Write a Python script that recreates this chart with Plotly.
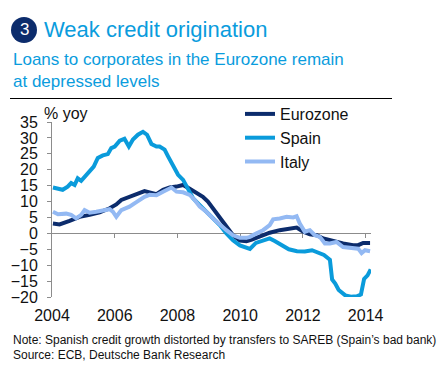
import plotly.graph_objects as go

# ---- data ----
years = [2004, 2006, 2008, 2010, 2012, 2014]
year_labels = ["2004", "2006", "2008", "2010", "2012", "2014"]
y_ticks = [-20, -15, -10, -5, 0, 5, 10, 15, 20, 25, 30, 35]

eurozone_x = [2004.03, 2004.24, 2004.56, 2004.88, 2005.20, 2005.52, 2005.84, 2006.05, 2006.21,
              2006.47, 2006.69, 2006.95, 2007.11, 2007.33, 2007.54, 2007.75, 2007.97, 2008.18,
              2008.39, 2008.60, 2008.81, 2008.97, 2009.13, 2009.35, 2009.56, 2009.77, 2009.99,
              2010.20, 2010.37, 2010.62, 2010.84, 2010.94, 2011.26, 2011.58, 2011.80, 2012.01,
              2012.22, 2012.44, 2012.65, 2012.97, 2013.28, 2013.60, 2013.76, 2013.92, 2014.14]
eurozone_y = [3.1, 2.8, 3.9, 5.2, 5.8, 6.6, 7.9, 9.1, 10.5,
              11.5, 12.4, 13.3, 12.9, 12.3, 13.7, 14.4, 14.7, 15.2,
              14.0, 12.6, 11.5, 10.0, 7.9, 5.2, 2.1, -0.6, -2.3,
              -2.5, -2.0, -1.1, 0.0, 0.2, 1.0, 1.5, 1.8, 0.5,
              -0.3, -0.6, -1.6, -2.4, -3.2, -3.7, -3.7, -3.0, -3.0]

spain_x = [2004.03, 2004.34, 2004.50, 2004.61, 2004.72, 2004.82, 2004.93, 2005.09, 2005.25,
           2005.33, 2005.46, 2005.62, 2005.78, 2005.89, 2006.00, 2006.16, 2006.31, 2006.45,
           2006.58, 2006.74, 2006.90, 2007.03, 2007.17, 2007.33, 2007.43, 2007.59, 2007.70,
           2007.86, 2008.02, 2008.18, 2008.34, 2008.50, 2008.71, 2008.92, 2009.13, 2009.35,
           2009.56, 2009.77, 2009.99, 2010.31, 2010.50, 2010.75, 2010.94, 2011.10, 2011.30,
           2011.55, 2011.81, 2012.06, 2012.29, 2012.45, 2012.67, 2012.86, 2012.93, 2013.03,
           2013.14, 2013.35, 2013.53, 2013.72, 2013.85, 2013.95, 2014.06, 2014.16]
spain_y = [14.4, 13.7, 14.7, 15.8, 15.2, 17.3, 16.5, 18.4, 20.0,
           21.0, 23.7, 24.5, 24.9, 26.8, 27.3, 29.1, 29.7, 27.3,
           29.5, 31.0, 31.9, 31.0, 28.1, 27.3, 27.3, 26.3, 24.2,
           21.0, 18.4, 16.8, 14.2, 11.0, 8.9, 6.8, 4.7, 2.6,
           0.0, -2.2, -3.8, -4.9, -3.0, -2.2, -1.6, -2.4, -3.5,
           -5.0, -5.6, -5.7, -5.3, -5.8, -6.8, -8.3, -14.5, -15.8,
           -17.8, -19.5, -19.9, -19.8, -19.2, -14.3, -13.2, -11.3]

italy_x = [2004.03, 2004.19, 2004.45, 2004.61, 2004.77, 2004.93, 2005.04, 2005.20, 2005.41,
           2005.62, 2005.84, 2005.94, 2006.05, 2006.21, 2006.47, 2006.69, 2006.95, 2007.11,
           2007.33, 2007.54, 2007.81, 2007.97, 2008.18, 2008.39, 2008.55, 2008.71, 2008.92,
           2009.13, 2009.35, 2009.56, 2009.77, 2009.99, 2010.20, 2010.31, 2010.52, 2010.73,
           2010.94, 2011.05, 2011.26, 2011.48, 2011.69, 2011.80, 2011.90, 2012.06, 2012.22,
           2012.38, 2012.54, 2012.70, 2012.86, 2013.07, 2013.28, 2013.60, 2013.76, 2013.87,
           2013.98, 2014.14]
italy_y = [6.8, 6.0, 6.2, 5.8, 4.7, 5.8, 7.3, 6.5, 6.8,
           7.3, 7.6, 6.8, 5.2, 7.3, 8.4, 9.8, 11.5, 12.1,
           12.0, 13.1, 14.4, 13.1, 12.9, 12.1, 10.5, 8.4, 6.8,
           4.7, 2.6, 1.0, -0.6, -1.4, -1.4, -1.1, 0.0, 1.0,
           2.6, 4.4, 4.7, 5.2, 5.0, 5.4, 3.1, 0.5, 1.0,
           -0.6, -1.1, -3.2, -3.2, -2.7, -4.3, -4.8, -4.8, -6.2,
           -5.3, -5.6]

# ---- styling ----
W, H = 442, 372
L, R, T, B = 52, 71, 122, 75
NAVY = "#0C2C6C"
SPAIN = "#0A9BDB"
ITALY = "#93B9F3"
TITLE_BLUE = "#0A9CDD"
AXIS_GRAY = "#8C8C8C"
TEXT = "#111111"
FONT = "Liberation Sans, Arial, sans-serif"

PW, PH = W - L - R, H - T - B


def px_x(px):
    return (px - L) / PW


def px_y(py):
    return (H - B - py) / PH


fig = go.Figure()
fig.add_trace(go.Scatter(x=eurozone_x, y=eurozone_y, name="Eurozone", mode="lines",
                         line=dict(color=NAVY, width=4)))
fig.add_trace(go.Scatter(x=spain_x, y=spain_y, name="Spain", mode="lines",
                         line=dict(color=SPAIN, width=4)))
fig.add_trace(go.Scatter(x=italy_x, y=italy_y, name="Italy", mode="lines",
                         line=dict(color=ITALY, width=4)))

xr = [2004, 2014.17]
yr = [-20, 35]

fig.update_layout(
    width=W, height=H,
    margin=dict(l=L, r=R, t=T, b=B, pad=0),
    paper_bgcolor="white", plot_bgcolor="white",
    font=dict(family=FONT, color=TEXT, size=16),
    showlegend=True,
    legend=dict(x=px_x(240), y=px_y(97), xanchor="left", yanchor="top",
                bgcolor="rgba(0,0,0,0)", font=dict(size=16, color=TEXT),
                itemwidth=30, tracegroupgap=0),
    xaxis=dict(range=xr, tickvals=years, ticktext=year_labels, ticks="",
               showline=False, showgrid=False, zeroline=False,
               tickfont=dict(size=16, color=TEXT), ticklabelstandoff=7),
    xaxis2=dict(range=xr, overlaying="x", anchor="free",
                position=(0 - yr[0]) / (yr[1] - yr[0]),
                tickvals=years[1:], showticklabels=False, ticks="outside",
                ticklen=4, tickwidth=1, tickcolor=AXIS_GRAY,
                showline=True, linecolor=AXIS_GRAY, linewidth=1,
                showgrid=False, zeroline=False, layer="below traces"),
    yaxis=dict(range=yr, tickvals=y_ticks, ticks="outside", ticklen=4,
               tickwidth=1, tickcolor=AXIS_GRAY, showline=True,
               linecolor=AXIS_GRAY, linewidth=1, showgrid=False, zeroline=False,
               tickfont=dict(size=16, color=TEXT), ticklabelstandoff=6,
               layer="below traces"),
)

# invisible helper trace so the zero-line axis (xaxis2) renders
fig.add_trace(go.Scatter(x=[xr[0]], y=[None], xaxis="x2", showlegend=False,
                         hoverinfo="skip", mode="lines"))

shapes = [
    dict(type="circle", xref="paper", yref="paper",
         x0=px_x(11), x1=px_x(37), y0=px_y(43), y1=px_y(17),
         fillcolor=NAVY, line=dict(width=0)),
    dict(type="line", xref="paper", yref="paper",
         x0=px_x(10), x1=px_x(392), y0=px_y(98.5), y1=px_y(98.5),
         line=dict(color="black", width=1)),
]
fig.update_layout(shapes=shapes)

ann = [
    dict(text="3", x=px_x(24), y=px_y(30), xanchor="center", yanchor="middle",
         font=dict(size=17, color="white")),
    dict(text="Weak credit origination", x=px_x(42), y=px_y(30),
         xanchor="left", yanchor="middle", font=dict(size=22, color=TITLE_BLUE)),
    dict(text="Loans to corporates in the Eurozone remain<br>at depressed levels",
         x=px_x(11), y=px_y(70), xanchor="left", yanchor="middle", align="left",
         font=dict(size=17, color=TITLE_BLUE)),
    dict(text="% yoy", x=px_x(42), y=px_y(114), xanchor="left", yanchor="middle",
         font=dict(size=16, color=TEXT)),
    dict(text="Note: Spanish credit growth distorted by transfers to SAREB (Spain\u2019s bad bank)",
         x=px_x(11), y=px_y(340), xanchor="left", yanchor="middle",
         font=dict(size=12, color=TEXT)),
    dict(text="Source: ECB, Deutsche Bank Research",
         x=px_x(11), y=px_y(355), xanchor="left", yanchor="middle",
         font=dict(size=12, color=TEXT)),
]
for a in ann:
    a.update(xref="paper", yref="paper", showarrow=False)
fig.update_layout(annotations=ann)

fig.write_html("out.html", config={"displayModeBar": False},
               post_script="document.body.style.margin='0';document.body.style.padding='0';")
